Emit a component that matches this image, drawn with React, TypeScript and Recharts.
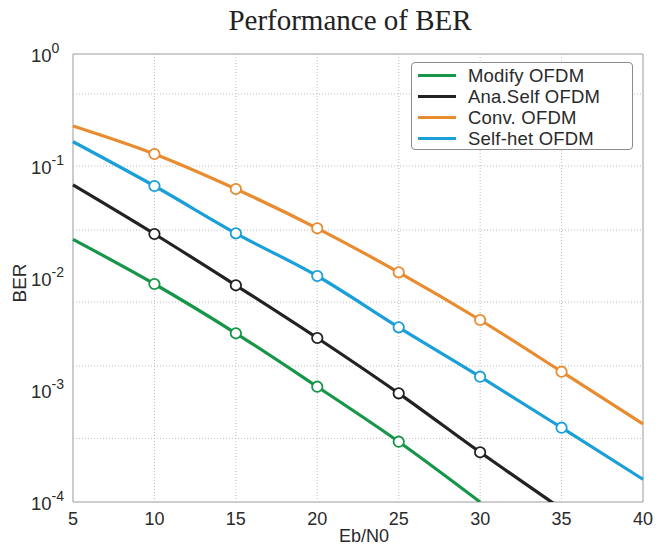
import React from 'react';
import { LineChart, Line, XAxis, YAxis, ReferenceLine, ReferenceArea, Legend } from 'recharts';

const ebN0 = [5, 10, 15, 20, 25, 30, 35, 40];
const modifyOfdm = [0.02215, 0.008838, 0.003209, 0.00107, 0.0003455, 0.0001, null, null];
const anaSelfOfdm = [0.06767, 0.02471, 0.008606, 0.002912, 0.000934, 0.0002778, 0.0000866, 0.0000263];
const convOfdm = [0.2276, 0.128, 0.06232, 0.02778, 0.01124, 0.004217, 0.001457, 0.000497];
const selfHetOfdm = [0.1648, 0.06628, 0.02506, 0.01042, 0.003628, 0.001314, 0.0004606, 0.0001594];

const xTicks = [5, 10, 15, 20, 25, 30, 35, 40];
const yTicks = [1, 0.1, 0.01, 0.001, 0.0001];
const xGrid = [10, 15, 20, 25, 30, 35];
const yGrid = [0.44, 0.1, 0.0268, 0.0061, 0.00164, 0.00037];

const seriesDefs = [
  { key: 'modify', name: 'Modify OFDM', color: '#17964a', markers: [10, 15, 20, 25] },
  { key: 'ana', name: 'Ana.Self OFDM', color: '#222222', markers: [10, 15, 20, 25, 30] },
  { key: 'conv', name: 'Conv. OFDM', color: '#e98b2f', markers: [10, 15, 20, 25, 30, 35] },
  { key: 'self', name: 'Self-het OFDM', color: '#1a9fd9', markers: [10, 15, 20, 25, 30, 35] },
];

const data = ebN0.map((x, i) => ({
  x,
  modify: modifyOfdm[i],
  ana: anaSelfOfdm[i],
  conv: convOfdm[i],
  self: selfHetOfdm[i],
}));

const FONT = '"Liberation Sans", Arial, sans-serif';

const YTick = (props: any) => {
  const { y, payload } = props;
  const exp = Math.round(Math.log10(payload.value));
  return (
    <text x={31} y={y + 8} fill="#2a2a2a" fontFamily={FONT} fontSize={18.5}>
      <tspan>10</tspan>
      <tspan dy={-9} fontSize={14}>{String(exp)}</tspan>
    </text>
  );
};

const XTick = (props: any) => {
  const { x, payload } = props;
  return (
    <text x={x} y={525} fill="#2a2a2a" fontFamily={FONT} fontSize={18} textAnchor="middle">
      {payload.value}
    </text>
  );
};

const makeDot = (color: string, markers: number[]) => (props: any) => {
  const { cx, cy, payload, index } = props;
  if (!markers.includes(payload.x) || cx == null || cy == null) {
    return <g key={`d-${index}`} />;
  }
  return <circle key={`d-${index}`} cx={cx} cy={cy} r={5.2} fill="#ffffff" stroke={color} strokeWidth={1.8} />;
};

const renderLegend = () => (
  <div
    style={{
      width: 222,
      height: 88,
      boxSizing: 'border-box',
      border: '1px solid #8a8a8a',
      borderRadius: 4,
      background: '#ffffff',
      paddingTop: 2,
      fontFamily: FONT,
    }}
  >
    {seriesDefs.map((s) => (
      <div key={s.key} style={{ display: 'flex', alignItems: 'center', height: 21 }}>
        <div style={{ width: 38, height: 3, background: s.color, marginLeft: 6, marginRight: 12 }} />
        <span style={{ fontSize: 18.5, letterSpacing: 0.2, color: '#2a2a2a', lineHeight: '21px' }}>{s.name}</span>
      </div>
    ))}
  </div>
);

export default function App() {
  return (
    <div style={{ position: 'absolute', left: 0, top: 0, width: 672, height: 546, background: '#ffffff' }}>
      <div
        style={{
          position: 'absolute',
          left: 350,
          top: 6,
          transform: 'translateX(-50%)',
          fontFamily: '"Liberation Serif", serif',
          fontSize: 29,
          lineHeight: '29px',
          color: '#222',
          whiteSpace: 'nowrap',
        }}
      >
        Performance of BER
      </div>
      <LineChart width={672} height={546} data={data} margin={{ top: 54, right: 29, left: 0, bottom: 0 }}>
        <XAxis
          dataKey="x"
          type="number"
          domain={[5, 40]}
          ticks={xTicks}
          height={44}
          axisLine={false}
          tickLine={false}
          tick={XTick}
          interval={0}
          label={{
            content: () => (
              <text x={364} y={542} fill="#2a2a2a" fontFamily={FONT} fontSize={18} textAnchor="middle">
                Eb/N0
              </text>
            ),
          }}
        />
        <YAxis
          scale="log"
          domain={[0.0001, 1]}
          allowDataOverflow
          ticks={yTicks}
          width={73}
          axisLine={false}
          tickLine={false}
          tick={YTick}
          interval={0}
          label={{
            content: () => (
              <text
                x={26}
                y={283}
                transform="rotate(-90 26 283)"
                fill="#2a2a2a"
                fontFamily={FONT}
                fontSize={19}
                textAnchor="middle"
              >
                BER
              </text>
            ),
          }}
        />
        {xGrid.map((v) => (
          <ReferenceLine key={`gx${v}`} x={v} stroke="#bdbdbd" strokeDasharray="1 2" strokeWidth={1} />
        ))}
        {yGrid.map((v) => (
          <ReferenceLine key={`gy${v}`} y={v} stroke="#bdbdbd" strokeDasharray="1 2" strokeWidth={1} />
        ))}
        <ReferenceArea x1={5} x2={40} y1={0.0001} y2={1} fill="none" stroke="#9a9a9a" strokeWidth={1} />
        {seriesDefs.map((s) => (
          <Line
            key={s.key}
            dataKey={s.key}
            name={s.name}
            type="monotone"
            stroke={s.color}
            strokeWidth={3.2}
            dot={makeDot(s.color, s.markers)}
            activeDot={false}
            isAnimationActive={false}
          />
        ))}
        <Legend
          layout="vertical"
          align="center"
          verticalAlign="middle"
          content={renderLegend}
          wrapperStyle={{ left: 411, top: 62, width: 222, height: 88 }}
        />
      </LineChart>
    </div>
  );
}
